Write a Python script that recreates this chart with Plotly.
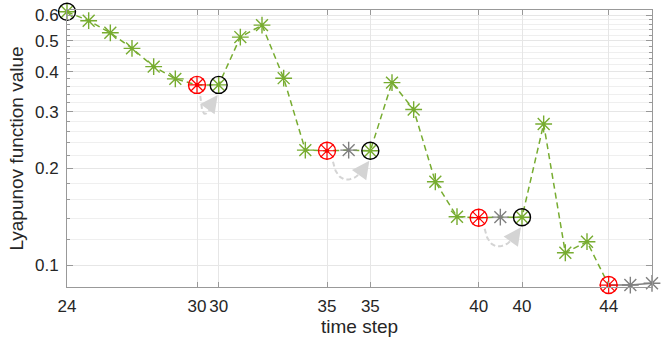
import numpy as np
import plotly.graph_objects as go

# ---------------- data ----------------
steps = list(range(28))  # plotted positions (sequence index)
values = [0.615, 0.577, 0.529, 0.473, 0.415, 0.380, 0.364, 0.364, 0.513, 0.559,
          0.382, 0.228, 0.227, 0.228, 0.227, 0.370, 0.305, 0.1817, 0.1414, 0.1404,
          0.141, 0.1408, 0.275, 0.1092, 0.1182, 0.0866, 0.0866, 0.0877]
green_idx = [0, 1, 2, 3, 4, 5, 7, 8, 9, 10, 11, 14, 15, 16, 17, 18, 21, 22, 23, 24]
red_idx = [6, 12, 19, 25]
gray_idx = [13, 20, 26, 27]
circle_idx = [0, 7, 14, 21]
arrow_pairs = [(6, 7), (12, 14), (19, 21)]
tick_pos = [0, 6, 7, 12, 14, 19, 21, 25]
tick_text = ['24', '30', '30', '35', '35', '40', '40', '44']
ytick_vals = [0.1, 0.2, 0.3, 0.4, 0.5, 0.6]
ytick_text = ['0.1', '0.2', '0.3', '0.4', '0.5', '0.6']
yminor_vals = [0.12, 0.14, 0.16, 0.18, 0.22, 0.24, 0.26, 0.28, 0.32, 0.34, 0.36, 0.38,
               0.42, 0.44, 0.46, 0.48, 0.52, 0.54, 0.56, 0.58]

# ---------------- layout constants ----------------
W, H = 671, 345
ML, MR, MT, MB = 67, 19, 10, 58
PW, PH = W - ML - MR, H - MT - MB
XR = [0, 27]
YR = [np.log10(0.0854), np.log10(0.623)]

GREEN = '#77AC30'
RED = '#FF0000'
GRAY = '#808080'
ARROW = '#D4D4D4'
FONT = 'Liberation Sans, Arial, sans-serif'
TXT = '#262626'


def to_px(x, v):
    px = ML + (x - XR[0]) / (XR[1] - XR[0]) * PW
    py = MT + (YR[1] - np.log10(v)) / (YR[1] - YR[0]) * PH
    return px, py


def from_px(px, py):
    x = XR[0] + (px - ML) / PW * (XR[1] - XR[0])
    v = 10 ** (YR[1] - (py - MT) / PH * (YR[1] - YR[0]))
    return x, v


fig = go.Figure()

# main dashed trajectory
fig.add_trace(go.Scatter(x=steps[:26], y=values[:26], mode='lines',
                         line=dict(color=GREEN, width=1.5, dash='6px,4px'),
                         hoverinfo='skip', showlegend=False))
# gray tail
fig.add_trace(go.Scatter(x=steps[25:], y=values[25:], mode='lines',
                         line=dict(color=GRAY, width=1.5),
                         hoverinfo='skip', showlegend=False))

# curved arrows
annotations = []
for a, b in arrow_pairs:
    ax_, ay_ = to_px(steps[a], values[a])
    bx_, by_ = to_px(steps[b], values[b])
    dx = bx_ - ax_
    P0 = np.array([ax_ + min(6, 0.15 * dx), ay_ + 11])
    P3 = np.array([bx_ - 1, by_ + 10])
    P1 = P0 + np.array([0.1 * dx, 26])
    P2 = P3 + np.array([-12, 23])
    t = np.linspace(0, 0.86, 30)[:, None]
    pts = ((1 - t) ** 3) * P0 + 3 * ((1 - t) ** 2) * t * P1 + 3 * (1 - t) * t ** 2 * P2 + t ** 3 * P3
    cx, cv = zip(*[from_px(p[0], p[1]) for p in pts])
    fig.add_trace(go.Scatter(x=list(cx), y=list(cv), mode='lines',
                             line=dict(color=ARROW, width=2, dash='5px,3px'),
                             hoverinfo='skip', showlegend=False))
    tx, tv = from_px(P3[0], P3[1])
    annotations.append(dict(x=tx, y=np.log10(tv), xref='x', yref='y',
                            ax=-10, ay=14, showarrow=True, arrowhead=2,
                            arrowsize=2.2, arrowwidth=1.6, arrowcolor=ARROW,
                            standoff=0, text=''))

# green asterisks
fig.add_trace(go.Scatter(x=[steps[i] for i in green_idx], y=[values[i] for i in green_idx],
                         mode='markers', cliponaxis=False,
                         marker=dict(symbol='asterisk-open', size=14, color=GREEN,
                                     line=dict(width=1.4, color=GREEN)),
                         hoverinfo='skip', showlegend=False))
# black circles
fig.add_trace(go.Scatter(x=[steps[i] for i in circle_idx], y=[values[i] for i in circle_idx],
                         mode='markers', cliponaxis=False,
                         marker=dict(symbol='circle-open', size=17, color='black',
                                     line=dict(width=1.4, color='black')),
                         hoverinfo='skip', showlegend=False))
# red wheels
rx = [steps[i] for i in red_idx]
ry = [values[i] for i in red_idx]
fig.add_trace(go.Scatter(x=rx, y=ry, mode='markers', cliponaxis=False,
                         marker=dict(symbol='circle-open', size=17, color=RED,
                                     line=dict(width=1.4, color=RED)),
                         hoverinfo='skip', showlegend=False))
fig.add_trace(go.Scatter(x=rx, y=ry, mode='markers', cliponaxis=False,
                         marker=dict(symbol='asterisk-open', size=15, color=RED,
                                     line=dict(width=1.2, color=RED)),
                         hoverinfo='skip', showlegend=False))
fig.add_trace(go.Scatter(x=rx, y=ry, mode='markers', cliponaxis=False,
                         marker=dict(symbol='circle', size=4, color=RED),
                         hoverinfo='skip', showlegend=False))
# gray asterisks
fig.add_trace(go.Scatter(x=[steps[i] for i in gray_idx], y=[values[i] for i in gray_idx],
                         mode='markers', cliponaxis=False,
                         marker=dict(symbol='asterisk-open', size=14, color=GRAY,
                                     line=dict(width=1.4, color=GRAY)),
                         hoverinfo='skip', showlegend=False))

fig.update_layout(
    width=W, height=H,
    margin=dict(l=ML, r=MR, t=MT, b=MB, autoexpand=False),
    paper_bgcolor='white', plot_bgcolor='white',
    font=dict(family=FONT, size=17, color=TXT),
    annotations=annotations,
    showlegend=False,
    hovermode=False,
)
fig.update_xaxes(
    range=XR, tickmode='array', tickvals=tick_pos, ticktext=tick_text,
    ticks='inside', ticklen=5, tickwidth=1, tickcolor='#999999',
    showline=True, linecolor='#999999', linewidth=1, mirror='ticks',
    showgrid=True, gridcolor='#E6E6E6', gridwidth=1, zeroline=False,
    tickfont=dict(size=17, color=TXT), ticklabelstandoff=4, automargin=False,
    ticklabeloverflow='allow',
    title=dict(text='time step', font=dict(size=19, color=TXT), standoff=4),
)
fig.update_yaxes(
    type='log', range=YR, tickmode='array', tickvals=ytick_vals, ticktext=ytick_text,
    ticks='inside', ticklen=6, tickwidth=1, tickcolor='#999999',
    showline=True, linecolor='#999999', linewidth=1, mirror='ticks',
    showgrid=True, gridcolor='#E6E6E6', gridwidth=1, zeroline=False,
    tickfont=dict(size=17, color=TXT), ticklabelstandoff=4, automargin=False,
    ticklabeloverflow='allow',
    minor=dict(tickmode='array', tickvals=yminor_vals, ticks='inside', ticklen=3,
               tickcolor='#999999', showgrid=True, gridcolor='#EFEFEF', gridwidth=1),
    title=dict(text='Lyapunov function value', font=dict(size=19, color=TXT), standoff=6),
)

# remove the default 8px page margin so the figure sits at the window origin
fig.write_html('out.html', config={'displayModeBar': False, 'staticPlot': True},
               post_script="document.body.style.margin='0px';document.body.style.overflow='hidden';")
